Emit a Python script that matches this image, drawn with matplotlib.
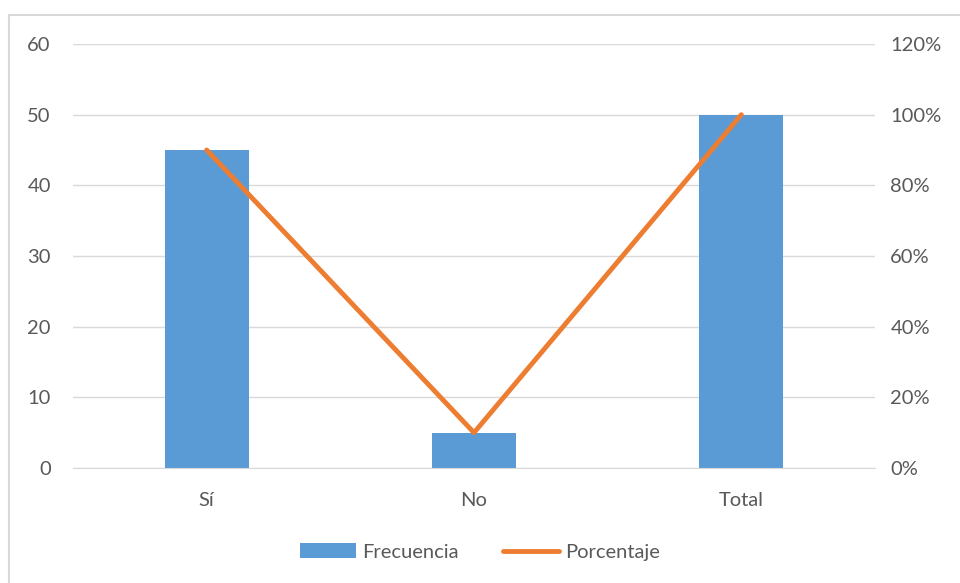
import matplotlib
matplotlib.use('Agg')
import matplotlib.pyplot as plt
from matplotlib.patches import Rectangle
from matplotlib.ticker import FuncFormatter

categories = ['Sí', 'No', 'Total']
frecuencia = [45, 5, 50]
porcentaje = [90, 10, 100]

BAR_COLOR = '#5B9BD5'
LINE_COLOR = '#ED7D31'
TEXT_COLOR = '#595959'
GRID_COLOR = '#D9D9D9'

plt.rcParams['font.family'] = ['Lato', 'DejaVu Sans']

W, H = 960, 583
fig = plt.figure(figsize=(W / 100, H / 100), dpi=100)

# chart frame, running off the right and bottom edges
fig.patches.append(Rectangle((9 / W, -0.1), 1.2, 1.1 - 15 / H, transform=fig.transFigure,
                             fill=False, edgecolor=GRID_COLOR, linewidth=1.5))

ax = fig.add_axes([73 / W, 1 - 468 / H, (875 - 73) / W, (468 - 44) / H])
x = list(range(len(categories)))
ax.bar(x, frecuencia, width=0.315, color=BAR_COLOR, zorder=2, label='Frecuencia')
ax.set_xlim(-0.5, 2.5)
ax.set_ylim(0, 60)
ax.set_yticks(range(0, 61, 10))
ax.grid(axis='y', color=GRID_COLOR, linewidth=1, zorder=0)
ax.set_xticks(x)
ax.set_xticklabels(categories)
for s in ['top', 'right', 'left']:
    ax.spines[s].set_visible(False)
ax.spines['bottom'].set_color(GRID_COLOR)
ax.tick_params(length=0, labelsize=14.5, colors=TEXT_COLOR)
ax.tick_params(axis='y', pad=16)
ax.tick_params(axis='x', pad=17)

ax2 = ax.twinx()
ax2.plot(x, porcentaje, color=LINE_COLOR, linewidth=3.5, zorder=3,
         solid_capstyle='round', label='Porcentaje')
ax2.set_ylim(0, 120)
ax2.set_yticks(range(0, 121, 20))
ax2.yaxis.set_major_formatter(FuncFormatter(lambda v, p: f'{int(v)}%'))
for s in ax2.spines.values():
    s.set_visible(False)
ax2.tick_params(length=0, labelsize=14.5, colors=TEXT_COLOR, pad=11)

handles = ax.get_legend_handles_labels()[0] + ax2.get_legend_handles_labels()[0]
labels = ['Frecuencia', 'Porcentaje']
fig.legend(handles, labels, loc='center', bbox_to_anchor=(0.5, 1 - 552 / H), ncol=2,
           frameon=False, fontsize=14.5, labelcolor=TEXT_COLOR, handlelength=2.8,
           handletextpad=0.3, columnspacing=2.2, handleheight=0.7)

fig.savefig('out.png', dpi=100)
